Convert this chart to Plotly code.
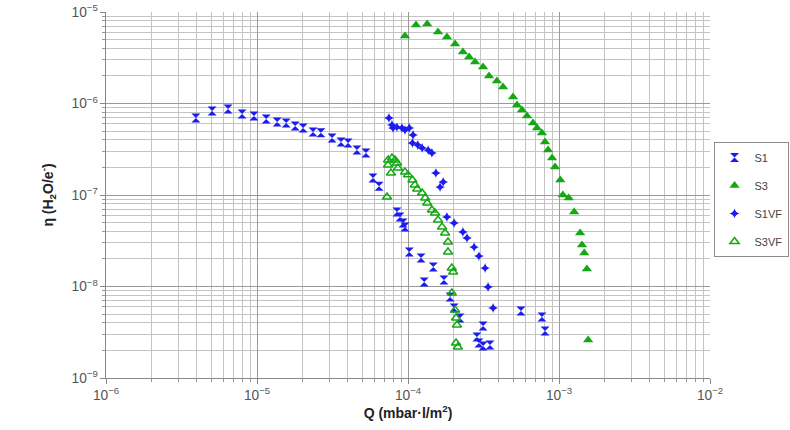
import plotly.graph_objects as go

# ---- data ----
s1_q = [3.94e-6, 5.04e-6, 6.43e-6, 7.96e-6, 9.55e-6, 1.15e-5, 1.36e-5, 1.56e-5, 1.79e-5, 2.02e-5,
        2.35e-5, 2.65e-5, 3.14e-5, 3.60e-5, 4.01e-5, 4.59e-5, 5.27e-5, 5.86e-5, 6.43e-5, 8.45e-5,
        8.85e-5, 9.27e-5, 9.55e-5, 1.02e-4, 1.22e-4, 1.47e-4, 1.28e-4, 1.73e-4, 1.90e-4, 2.02e-4,
        2.21e-4, 3.14e-4, 2.86e-4, 2.95e-4, 3.14e-4, 3.49e-4, 5.60e-4, 7.71e-4, 8.08e-4]
s1_eta = [6.95e-7, 8.28e-7, 8.71e-7, 7.68e-7, 7.30e-7, 6.77e-7, 6.28e-7, 6.12e-7, 5.68e-7, 5.40e-7,
          4.89e-7, 4.80e-7, 4.20e-7, 3.79e-7, 3.70e-7, 3.10e-7, 2.88e-7, 1.53e-7, 1.25e-7, 6.52e-8,
          5.75e-8, 4.94e-8, 4.47e-8, 2.38e-8, 2.05e-8, 1.63e-8, 1.12e-8, 1.18e-8, 7.67e-9, 5.82e-9,
          4.53e-9, 3.70e-9, 2.81e-9, 2.41e-9, 2.24e-9, 2.30e-9, 5.40e-9, 4.64e-9, 3.26e-9]

s3_q = [9.55e-5, 1.13e-4, 1.34e-4, 1.58e-4, 1.81e-4, 2.05e-4, 2.31e-4, 2.54e-4, 2.78e-4, 3.14e-4,
        3.44e-4, 3.88e-4, 4.26e-4, 4.96e-4, 5.27e-4, 5.69e-4, 6.14e-4, 6.73e-4, 7.15e-4, 7.71e-4,
        8.08e-4, 8.46e-4, 9.00e-4, 9.42e-4, 1.02e-3, 1.06e-3, 1.16e-3, 1.26e-3, 1.38e-3, 1.42e-3,
        1.47e-3, 1.53e-3, 1.56e-3]
s3_eta = [5.47e-6, 7.21e-6, 7.39e-6, 6.04e-6, 5.33e-6, 4.47e-6, 3.66e-6, 3.22e-6, 2.84e-6, 2.51e-6,
          2.00e-6, 1.76e-6, 1.51e-6, 1.18e-6, 9.63e-7, 8.49e-7, 7.30e-7, 6.12e-7, 5.40e-7, 4.76e-7,
          3.79e-7, 3.10e-7, 2.54e-7, 2.02e-7, 1.46e-7, 1.00e-7, 9.27e-8, 6.52e-8, 3.85e-8, 2.84e-8,
          2.32e-8, 1.55e-8, 2.60e-9]

s1vf_q = [7.48e-5, 7.83e-5, 7.96e-5, 8.45e-5, 9.12e-5, 9.55e-5, 1.02e-4, 1.08e-4, 1.07e-4, 1.16e-4,
          1.24e-4, 1.36e-4, 1.44e-4, 1.53e-4, 1.71e-4, 1.63e-4, 1.81e-4, 2.02e-4, 2.31e-4, 2.46e-4,
          2.74e-4, 2.95e-4, 3.24e-4, 3.39e-4, 3.66e-4]
s1vf_eta = [6.95e-7, 5.82e-7, 5.40e-7, 5.53e-7, 5.40e-7, 5.13e-7, 5.40e-7, 4.53e-7, 3.70e-7, 3.52e-7,
            3.27e-7, 3.10e-7, 2.88e-7, 1.74e-7, 1.39e-7, 1.22e-7, 5.75e-8, 4.94e-8, 3.94e-8, 3.39e-8,
            2.70e-8, 2.15e-8, 1.59e-8, 9.88e-9, 5.82e-9]

s3vf_q = [7.38e-5, 7.83e-5, 7.38e-5, 7.71e-5, 8.45e-5, 8.58e-5, 8.20e-5, 9.55e-5, 1.00e-4, 1.07e-4,
          1.11e-4, 1.15e-4, 1.24e-4, 1.30e-4, 1.34e-4, 1.44e-4, 1.51e-4, 1.58e-4, 1.68e-4, 1.76e-4,
          1.84e-4, 1.84e-4, 1.95e-4, 1.99e-4, 1.95e-4, 2.05e-4, 2.08e-4, 2.11e-4, 2.08e-4, 2.14e-4,
          7.26e-5]
s3vf_eta = [2.41e-7, 2.54e-7, 2.13e-7, 1.74e-7, 2.24e-7, 1.97e-7, 2.41e-7, 1.78e-7, 1.66e-7, 1.46e-7,
            1.29e-7, 1.16e-7, 1.05e-7, 9.27e-8, 8.18e-8, 6.86e-8, 6.36e-8, 5.33e-8, 4.47e-8, 3.85e-8,
            3.06e-8, 2.38e-8, 1.59e-8, 1.44e-8, 8.49e-9, 5.53e-9, 4.53e-9, 3.79e-9, 2.41e-9, 2.18e-9,
            9.51e-8]

BLUE = "#1c1cf0"
GREEN = "#14a814"

fig = go.Figure()
fig.add_trace(go.Scatter(x=s1_q, y=s1_eta, mode="markers", name="S1", legendgroup="a",
                         marker=dict(symbol="hourglass", size=9, color=BLUE)))
fig.add_trace(go.Scatter(x=s3_q, y=s3_eta, mode="markers", name="S3", legendgroup="b",
                         marker=dict(symbol="triangle-up", size=9, color=GREEN)))
fig.add_trace(go.Scatter(x=s1vf_q, y=s1vf_eta, mode="markers", name="S1VF", legendgroup="c",
                         marker=dict(symbol="star-diamond", size=7, color=BLUE)))
fig.add_trace(go.Scatter(x=s3vf_q, y=s3vf_eta, mode="markers", name="S3VF", legendgroup="d",
                         marker=dict(symbol="triangle-up-open", size=8, color=GREEN,
                                     line=dict(width=1.5, color=GREEN))))

axis_common = dict(
    type="log", dtick=1, exponentformat="power", showexponent="all",
    showgrid=True, gridcolor="#999999", gridwidth=1,
    showline=True, linecolor="#888888", linewidth=1,
    ticks="outside", ticklen=5, tickcolor="#888888",
    tickfont=dict(family="Liberation Sans, Arial", size=11, color="#555555"),
    minor=dict(dtick="D1", showgrid=True, gridcolor="#c4c4c4", gridwidth=1,
               ticks="outside", ticklen=3, tickcolor="#999999"),
    zeroline=False,
)

fig.update_xaxes(**axis_common, range=[-6, -2],
                 title=dict(text="<b>Q (mbar·l/m<sup>2</sup>)</b>", standoff=6,
                            font=dict(family="Liberation Sans, Arial", size=14, color="#222222")))
fig.update_yaxes(**axis_common, range=[-9, -5],
                 title=dict(text="<b>η (H<sub>2</sub>O/e<sup>-</sup>)</b>", standoff=14,
                            font=dict(family="Liberation Sans, Arial", size=14, color="#222222")))

fig.update_layout(
    width=790, height=430,
    margin=dict(l=106, r=80, t=12, b=52, autoexpand=False),
    paper_bgcolor="white", plot_bgcolor="white",
    showlegend=True,
    legend=dict(x=1.13, xanchor="right", y=0.645, yanchor="top",
                bordercolor="#8c8c8c", borderwidth=1, bgcolor="white",
                font=dict(family="Liberation Sans, Arial", size=11, color="#444444"),
                tracegroupgap=9, itemwidth=30),
)

fig.write_html("out.html")
